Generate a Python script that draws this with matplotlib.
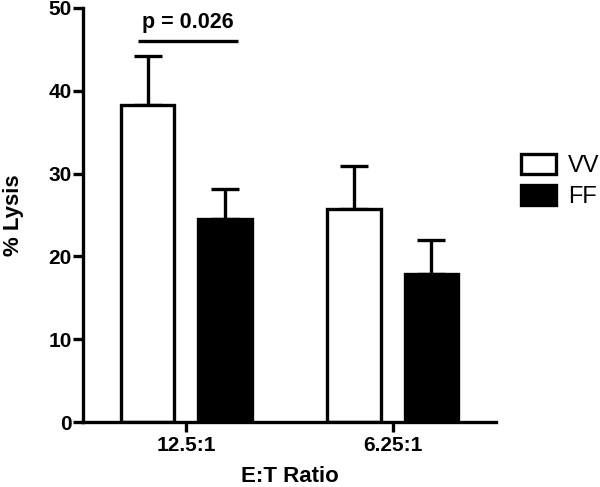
import matplotlib
matplotlib.use("Agg")
import matplotlib.pyplot as plt
import numpy as np
from matplotlib.patches import Patch

categories = ["12.5:1", "6.25:1"]
series_names = ["VV", "FF"]
vv_values = [38.3, 25.7]
vv_errors = [5.9, 5.2]
ff_values = [24.5, 17.9]
ff_errors = [3.6, 4.1]
y_ticks = [0, 10, 20, 30, 40, 50]
sig_label = "p = 0.026"
sig_level = 46.0

plt.rcParams['font.family'] = ['Liberation Sans', 'DejaVu Sans']

fig = plt.figure(figsize=(6.0, 4.87), dpi=100)
ax = fig.add_axes([83/600, 1 - 422/487, (496-83)/600, (422-8)/487])

x = np.arange(len(categories))
w = 0.26
off = 0.187
lw = 2.4

ax.bar(x - off, vv_values, w, color='white', edgecolor='black', linewidth=lw, zorder=2)
ax.bar(x + off, ff_values, w, color='black', edgecolor='black', linewidth=lw, zorder=2)
ax.errorbar(x - off, vv_values, yerr=[np.zeros(2), vv_errors], fmt='none', ecolor='black',
            elinewidth=lw, capsize=10, capthick=lw, zorder=1)
ax.errorbar(x + off, ff_values, yerr=[np.zeros(2), ff_errors], fmt='none', ecolor='black',
            elinewidth=lw, capsize=10, capthick=lw, zorder=1)

# significance bar
ax.plot([-0.235, 0.25], [sig_level, sig_level], color='black', lw=lw, clip_on=False,
        solid_capstyle='butt')
ax.text(0.007, 47.6, sig_label, ha='center', va='baseline', fontsize=15.5, fontweight='bold')

ax.set_xlim(-0.5, 1.5)
ax.set_ylim(0, 50)
ax.set_yticks(y_ticks)
ax.set_xticks(x)
ax.set_xticklabels(categories)
for s in ['top', 'right']:
    ax.spines[s].set_visible(False)
for s in ['left', 'bottom']:
    ax.spines[s].set_linewidth(lw)
ax.tick_params(axis='y', width=lw, length=7, labelsize=15, pad=1)
ax.tick_params(axis='x', width=lw, length=7, labelsize=15, pad=3)
for lab in ax.get_xticklabels() + ax.get_yticklabels():
    lab.set_fontweight('bold')

ax.set_ylabel('% Lysis', fontsize=16, fontweight='bold', labelpad=18)
ax.set_xlabel('E:T Ratio', fontsize=16, fontweight='bold', labelpad=8)

handles = [Patch(facecolor='white', edgecolor='black', linewidth=lw),
           Patch(facecolor='black', edgecolor='black', linewidth=lw)]
leg = fig.legend(handles, series_names, loc='center left',
                 bbox_to_anchor=(521/600, 1 - 181/487), frameon=False,
                 fontsize=17, handlelength=1.5, handleheight=0.9,
                 labelspacing=0.35, handletextpad=0.5, borderaxespad=0, borderpad=0)

fig.savefig('out.png', dpi=100)
